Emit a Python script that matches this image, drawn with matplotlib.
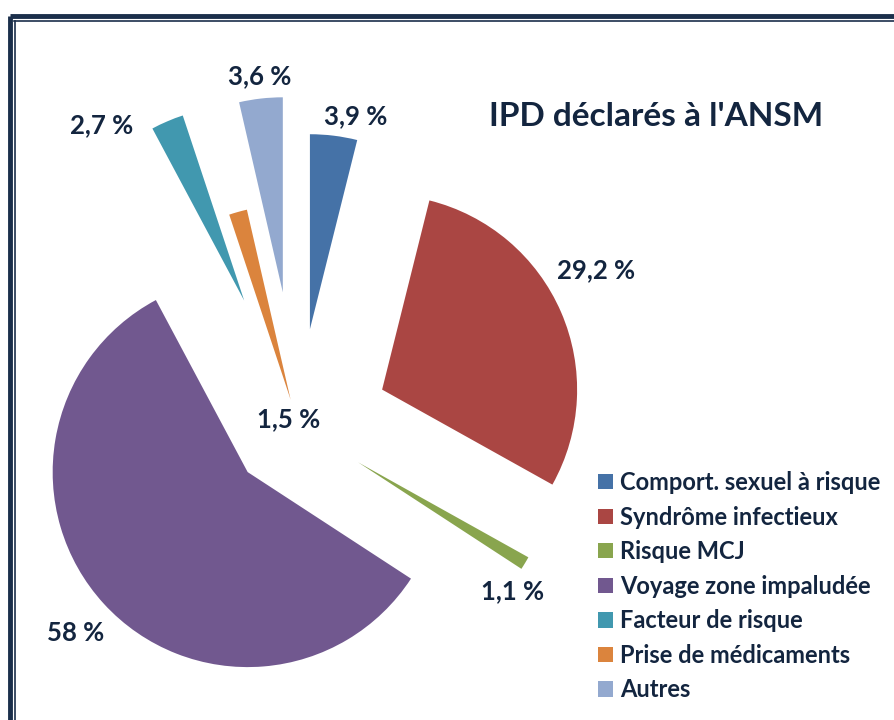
# 导入第三方库模块
import matplotlib
matplotlib.use('Agg')
from matplotlib import pyplot as plt


# 图表数据
categories = [
    'Comport. sexuel à risque',
    'Syndrôme infectieux',
    'Risque MCJ',
    'Voyage zone impaludée',
    'Facteur de risque',
    'Prise de médicaments',
    'Autres',
]
values = [3.9, 29.2, 1.1, 58, 2.7, 1.5, 3.6]
title = "IPD déclarés à l'ANSM"

# 样式设置
colors = ['#4572A7', '#AA4643', '#89A54E', '#71588F',
          '#4198AF', '#DB843D', '#93A9CF']
explode = [0.50, 0.47, 0.36, 0.35, 0.70, 0.14, 0.69]
label_pos = [(356, 116), (596, 270), (513, 591), (76, 633),
             (102, 125), (289, 419), (260, 76)]
TEXT = '#13253F'
W, H = 894, 720
R = 195

plt.rcParams['font.family'] = ['Lato', 'DejaVu Sans']


# 格式化百分比标签
def fmt(v):
    s = f'{v:g}'.replace('.', ',')
    return f'{s} %'


# 创建画布，坐标与像素对应
fig = plt.figure(figsize=(W / 100, H / 100), dpi=100)
ax = fig.add_axes([0, 0, 1, 1])

# 绘制饼图（explode 按半径换算）
wedges, _ = ax.pie(
    values, explode=[e * R for e in explode], colors=colors,
    startangle=90, counterclock=False,
    center=(298, H - 426), radius=R,
    wedgeprops={'linewidth': 0},
)
ax.set_xlim(0, W)
ax.set_ylim(0, H)
ax.set_aspect('equal')
ax.axis('off')

# 百分比标签
for v, (x, y) in zip(values, label_pos):
    ax.text(x, H - y, fmt(v), ha='center', va='center',
            fontsize=18.5, fontweight='bold', color=TEXT)

# 标题
ax.text(656, H - 116, title, ha='center', va='center',
        fontsize=24, fontweight='bold', color=TEXT)

# 图例
leg = ax.legend(
    wedges, categories, loc='upper left',
    bbox_to_anchor=(598 / W, 1 - 471 / H),
    frameon=False, fontsize=17,
    handlelength=0.62, handleheight=0.62,
    handletextpad=0.3, labelspacing=0.49,
    borderaxespad=0, borderpad=0,
)
for t in leg.get_texts():
    t.set_color(TEXT)
    t.set_fontweight('bold')

# 双线边框
ax.plot([10, W], [H - 16, H - 16], color='#1B2F4B', lw=3.5,
        solid_capstyle='butt')
ax.plot([10, 10], [H - 16, 0], color='#1B2F4B', lw=3.5,
        solid_capstyle='butt')
ax.plot([14, W], [H - 20.5, H - 20.5], color='#1B2F4B', lw=1.2)
ax.plot([14.5, 14.5], [H - 20.5, 0], color='#1B2F4B', lw=1.2)

fig.savefig('out.png', dpi=100)
